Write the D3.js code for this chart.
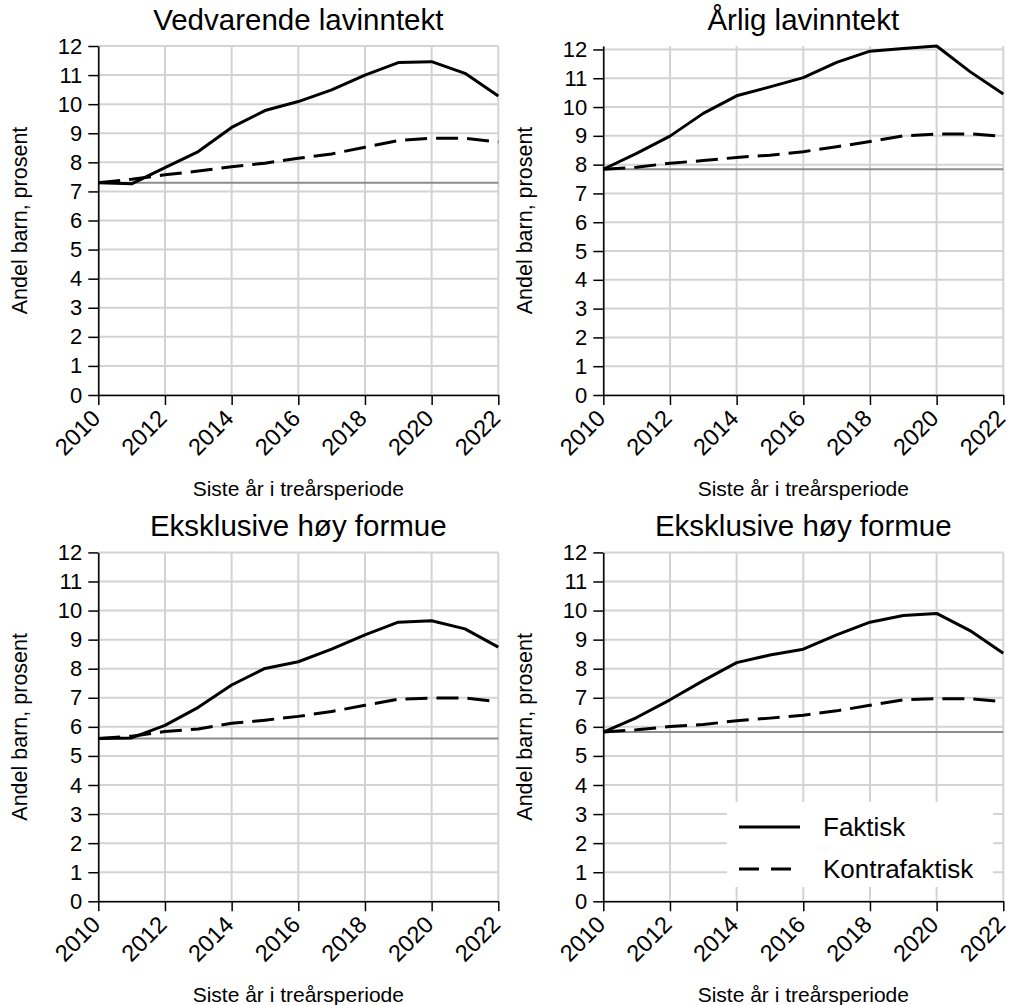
<!DOCTYPE html>
<html><head><meta charset="utf-8">
<script src="https://cdn.jsdelivr.net/npm/d3@7"></script>
<style>body{margin:0;background:#fff}svg{display:block}text{font-family:"Liberation Sans",Arial,sans-serif}</style>
</head><body><div id="chart"></div>
<script>
const years = [2010,2011,2012,2013,2014,2015,2016,2017,2018,2019,2020,2021,2022];
const xTicks = [2010,2012,2014,2016,2018,2020,2022];
const yTicks = [0,1,2,3,4,5,6,7,8,9,10,11,12];
const titles = ["Vedvarende lavinntekt","Årlig lavinntekt","Eksklusive høy formue","Eksklusive høy formue"];
const seriesNames = ["Faktisk","Kontrafaktisk"];
const xTitle = "Siste år i treårsperiode";
const yTitle = "Andel barn, prosent";
const vedvarendeFaktisk = [7.30,7.26,7.82,8.37,9.20,9.78,10.09,10.49,11.00,11.43,11.46,11.06,10.28];
const vedvarendeKontra  = [7.30,7.42,7.57,7.70,7.85,7.97,8.14,8.29,8.52,8.75,8.83,8.83,8.70];
const arligFaktisk = [7.84,8.39,8.99,9.78,10.39,10.70,11.02,11.55,11.94,12.03,12.12,11.23,10.45];
const arligKontra  = [7.84,7.91,8.05,8.14,8.25,8.33,8.45,8.62,8.80,9.00,9.06,9.07,8.98];
const eksklFaktiskA = [5.60,5.62,6.05,6.67,7.44,8.01,8.24,8.67,9.16,9.60,9.65,9.37,8.74];
const eksklKontraA  = [5.60,5.68,5.84,5.93,6.12,6.23,6.36,6.53,6.74,6.95,6.99,6.99,6.86];
const eksklFaktiskB = [5.82,6.32,6.93,7.59,8.21,8.47,8.67,9.16,9.60,9.83,9.90,9.31,8.53];
const eksklKontraB  = [5.82,5.90,6.01,6.08,6.21,6.30,6.40,6.55,6.74,6.93,6.97,6.97,6.86];

const panels = [
  {title:titles[0], f:vedvarendeFaktisk, k:vedvarendeKontra, x0:98.3, y0:395, y1:46, ymax:12},
  {title:titles[1], f:arligFaktisk, k:arligKontra, x0:603.3, y0:395, y1:46, ymax:12.12},
  {title:titles[2], f:eksklFaktiskA, k:eksklKontraA, x0:98.3, y0:901.3, y1:552.4, ymax:12},
  {title:titles[3], f:eksklFaktiskB, k:eksklKontraB, x0:603.3, y0:901.3, y1:552.4, ymax:12, legend:true}
];

const svg = d3.select("#chart").append("svg").attr("width",1009).attr("height",1005);
svg.append("rect").attr("width",1009).attr("height",1005).attr("fill","#fff");

panels.forEach(p => {
  const x = d3.scaleLinear().domain([2010,2022]).range([p.x0, p.x0+400]);
  const y = d3.scaleLinear().domain([0,p.ymax]).range([p.y0, p.y1]);
  const g = svg.append("g");
  g.selectAll(".vg").data(xTicks).join("line")
    .attr("x1",d=>x(d)).attr("x2",d=>x(d)).attr("y1",y(0)).attr("y2",y(p.ymax))
    .attr("stroke","#d3d3d3").attr("stroke-width",2);
  g.selectAll(".hg").data(yTicks).join("line")
    .attr("x1",x(2010)).attr("x2",x(2022)).attr("y1",d=>y(d)).attr("y2",d=>y(d))
    .attr("stroke","#d3d3d3").attr("stroke-width",2);
  g.append("line").attr("x1",x(2010)).attr("x2",x(2022)).attr("y1",y(p.f[0])).attr("y2",y(p.f[0]))
    .attr("stroke","#8c8c8c").attr("stroke-width",2);
  const line = d3.line().x((d,i)=>x(years[i])).y(d=>y(d));
  g.append("path").datum(p.k).attr("d",line).attr("fill","none").attr("stroke","#000")
    .attr("stroke-width",3).attr("stroke-dasharray","22,9");
  g.append("path").datum(p.f).attr("d",line).attr("fill","none").attr("stroke","#000")
    .attr("stroke-width",3).attr("stroke-linejoin","round");
  const ya = g.append("g").attr("transform",`translate(${x(2010)},0)`)
    .call(d3.axisLeft(y).tickValues(yTicks).tickFormat(d3.format("d")).tickSize(10).tickSizeOuter(0).tickPadding(6));
  const xa = g.append("g").attr("transform",`translate(0,${y(0)})`)
    .call(d3.axisBottom(x).tickValues(xTicks).tickFormat(d3.format("d")).tickSize(10).tickSizeOuter(0));
  [ya,xa].forEach(a=>{a.select(".domain").attr("stroke","#000").attr("stroke-width",1.5);
    a.selectAll(".tick line").attr("stroke","#000").attr("stroke-width",1.5);
    a.selectAll("text").attr("fill","#000").style("font-size","22px").style("font-family",'"Liberation Sans",Arial,sans-serif');});
  xa.selectAll(".tick text").style("font-size","23.5px").attr("text-anchor","end").attr("dy","0.35em").attr("y",0)
    .attr("transform","translate(-3,19) rotate(-45)");
  g.append("text").attr("x",x(2016)).attr("y",p.y1-16).attr("text-anchor","middle")
    .style("font-size","29.5px").text(p.title);
  g.append("text").attr("x",x(2016)).attr("y",p.y0+101).attr("text-anchor","middle")
    .style("font-size","21px").text(xTitle);
  g.append("text").attr("transform",`translate(${p.x0-71},${(p.y0+p.y1)/2}) rotate(-90)`)
    .attr("text-anchor","middle").style("font-size","21.5px").text(yTitle);
  if (p.legend) {
    const lg = g.append("g");
    lg.append("rect").attr("x",727).attr("y",802).attr("width",266).attr("height",85).attr("fill","#fff");
    seriesNames.forEach((n,i)=>{
      const yy = 827 + i*42;
      lg.append("line").attr("x1",739).attr("x2",800).attr("y1",yy).attr("y2",yy)
        .attr("stroke","#000").attr("stroke-width",3).attr("stroke-dasharray", i? "20,12":null);
      lg.append("text").attr("x",823).attr("y",yy).attr("dy","0.35em").style("font-size","26px").text(n);
    });
  }
});
</script></body></html>
